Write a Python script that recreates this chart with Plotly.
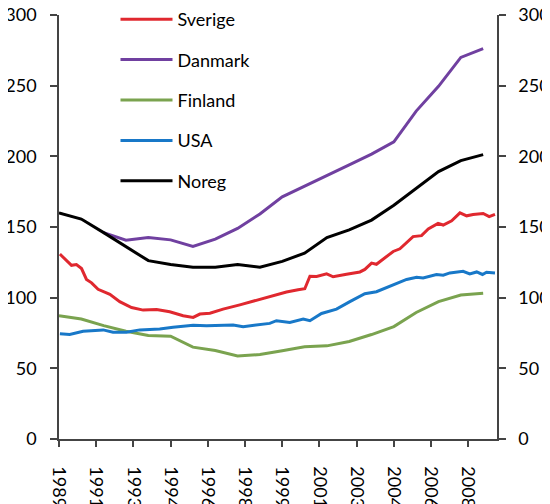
import plotly.graph_objects as go

# annual series (placed at mid/late year on the time axis)
years = list(range(1989, 2009))
noreg = [160, 155.6, 146, 136, 126.2, 123.5, 121.5, 121.5, 123.4, 121.5,
         125.7, 131.5, 142.5, 147.9, 154.9, 165.4, 177.1, 189.2, 197, 201.2]
danmark = [None, None, 146, 140.7, 142.5, 140.9, 136.2, 141.4, 149, 159.2,
           171.3, 178.8, 186, 194, 201.6, 210.3, 232, 249.5, 270, 276.2]
finland = [87.2, 84.9, 80.2, 76.2, 73.2, 72.7, 65, 62.6, 58.7, 59.8,
           62.5, 65.2, 65.9, 69, 73.9, 79.5, 89.5, 97.2, 101.9, 103.1]

# higher-frequency series (decimal years)
sverige_t = [1989.71, 1990.23, 1990.45, 1990.68, 1990.90, 1991.13, 1991.42, 1991.95,
             1992.39, 1992.92, 1993.44, 1994.04, 1994.63, 1995.23, 1995.68, 1995.98,
             1996.43, 1997.02, 1997.77, 1998.52, 1999.26, 1999.86, 2000.38, 2000.68,
             2000.91, 2001.21, 2001.66, 2001.95, 2002.55, 2003.15, 2003.37, 2003.67,
             2003.89, 2004.64, 2004.94, 2005.53, 2005.91, 2006.21, 2006.65, 2006.88,
             2007.26, 2007.63, 2007.93, 2008.22, 2008.67, 2008.94, 2009.20]
sverige = [130.8, 122.9, 123.4, 120.6, 112.9, 110.5, 105.9, 102.4,
           97.2, 93, 91.2, 91.6, 90, 87.2, 86, 88.4,
           89, 91.9, 94.9, 98.2, 101.2, 104, 105.6, 106.3,
           115.2, 115, 116.8, 114.8, 116.6, 118.2, 120, 124.5,
           123.6, 132.7, 134.6, 143.2, 143.9, 148.6, 152.6, 151.4,
           154.4, 160, 157.9, 158.9, 159.6, 157.3, 158.9]

usa_t = [1989.71, 1990.15, 1990.75, 1991.65, 1992.09, 1992.69, 1993.29, 1994.18,
         1994.78, 1995.68, 1996.28, 1996.87, 1997.47, 1997.92, 1998.52, 1999.11,
         1999.41, 1999.71, 2000.01, 2000.61, 2000.91, 2001.43, 2002.10, 2002.70,
         2003.37, 2003.89, 2004.64, 2005.24, 2005.69, 2005.98, 2006.58, 2006.88,
         2007.18, 2007.77, 2008.07, 2008.38, 2008.64, 2008.82, 2009.20]
usa = [74.4, 73.9, 76.2, 77.2, 75.5, 75.5, 77.2, 77.9,
       79, 80.4, 80.2, 80.6, 80.6, 79.5, 80.6, 81.8,
       83.7, 83.2, 82.5, 84.9, 83.7, 88.8, 91.9, 97.2,
       102.8, 104.2, 108.9, 112.9, 114.5, 114, 116.4, 115.9,
       117.5, 118.7, 116.8, 118.2, 116.4, 118, 117.5]

tick_labels = ["1989", "1991", "1993", "1994", "1996", "1998",
               "1999", "2001", "2003", "2004", "2006", "2008"]

annual_t = [y + 0.67 for y in years]
x0 = 1989.67
tick_vals = [x0 + i * 5 / 3 for i in range(len(tick_labels))]

colors = {"Sverige": "#e0282f", "Danmark": "#7040a0", "Finland": "#7aa34f",
          "USA": "#1878c8", "Noreg": "#000000"}

fig = go.Figure()
series = [("Sverige", sverige_t, sverige), ("Danmark", annual_t, danmark),
          ("Finland", annual_t, finland), ("USA", usa_t, usa),
          ("Noreg", annual_t, noreg)]
for name, xs, ys in series:
    fig.add_trace(go.Scatter(x=xs, y=ys, name=name, mode="lines",
                             legendgroup=name,
                             line=dict(color=colors[name], width=3)))
# invisible trace to carry the right axis
fig.add_trace(go.Scatter(x=[x0], y=[0], yaxis="y2", mode="lines",
                         showlegend=False, hoverinfo="skip",
                         line=dict(width=0)))

axcol = "#444444"
yax = dict(range=[0, 300], tickvals=[0, 50, 100, 150, 200, 250, 300],
           showgrid=False, zeroline=False, showline=True, linecolor=axcol,
           linewidth=1.5, ticks="outside", ticklen=7, tickcolor=axcol,
           tickwidth=1.5, ticklabelstandoff=10, automargin=False,
           ticklabeloverflow="allow")
fig.update_layout(
    width=542, height=496,
    margin=dict(l=51, r=53, t=7, b=65, autoexpand=False),
    paper_bgcolor="white", plot_bgcolor="white",
    font=dict(family="Lato", size=18, color="#000000"),
    xaxis=dict(range=[x0, 2009.29], tickvals=tick_vals, ticktext=tick_labels,
               tickangle=90, showgrid=False, zeroline=False, showline=True,
               linecolor=axcol, linewidth=1.5, ticks="outside", ticklen=6,
               tickcolor=axcol, tickwidth=1.5, ticklabelstandoff=16,
               automargin=False, ticklabeloverflow="allow"),
    yaxis=yax,
    yaxis2=dict(yax, overlaying="y", side="right", ticklabelstandoff=9),
    legend=dict(x=0.129, y=1.033, xanchor="left", yanchor="top",
                bgcolor="rgba(0,0,0,0)", tracegroupgap=14, itemwidth=52,
                font=dict(size=18)),
)

fig.write_html("out.html")
